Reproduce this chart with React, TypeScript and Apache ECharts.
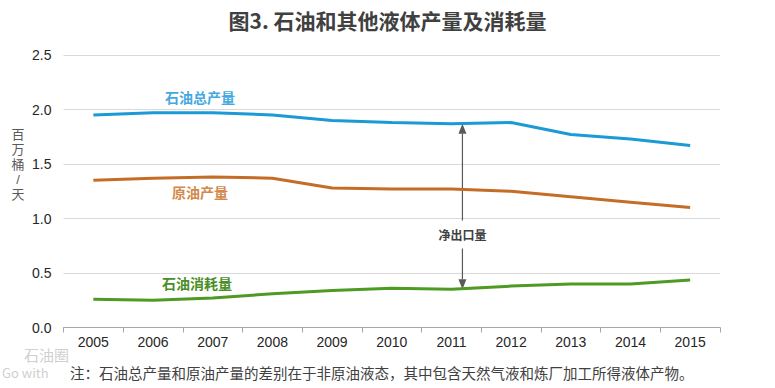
import React, { useEffect, useRef } from "react";
import * as echarts from "echarts";

const years = ["2005", "2006", "2007", "2008", "2009", "2010", "2011", "2012", "2013", "2014", "2015"];
const totalProduction = [1.95, 1.97, 1.97, 1.95, 1.9, 1.88, 1.87, 1.88, 1.77, 1.73, 1.67];
const crudeProduction = [1.35, 1.37, 1.38, 1.37, 1.28, 1.27, 1.27, 1.25, 1.2, 1.15, 1.1];
const consumption = [0.26, 0.25, 0.27, 0.31, 0.34, 0.36, 0.35, 0.38, 0.4, 0.4, 0.435];
const yMin = 0;
const yMax = 2.5;
const yStep = 0.5;
const yName = ["百", "万", "桶", "/", "天"];
const arrowYear = "2011";
const arrowTop = 1.87;
const arrowBottom = 0.35;

const FONT = "'Noto Sans CJK SC', 'Noto Sans', sans-serif";
const NUMFONT = "'Liberation Sans', Arial, sans-serif";

export default function App() {
  const ref = useRef<HTMLDivElement>(null);
  useEffect(() => {
    if (!ref.current) return;
    const chart = echarts.init(ref.current, null, { renderer: "svg" });
    const baseOption: any = {
      animation: false,
      backgroundColor: "#ffffff",
      grid: { left: 63.5, right: 55, top: 55, bottom: 60.5 },
      xAxis: {
        type: "category",
        data: years,
        boundaryGap: true,
        axisLine: { lineStyle: { color: "#a6a6a6", width: 1 } },
        axisTick: { show: true, length: 5, lineStyle: { color: "#a6a6a6" } },
        axisLabel: { color: "#262626", fontSize: 14, fontFamily: NUMFONT, margin: 7 },
        splitLine: { show: false },
      },
      yAxis: {
        type: "value",
        min: yMin,
        max: yMax,
        interval: yStep,
        axisLine: { show: false },
        axisTick: { show: false },
        axisLabel: {
          color: "#262626",
          fontSize: 14,
          fontFamily: NUMFONT,
          margin: 12,
          formatter: (v: number) => v.toFixed(1),
        },
        splitLine: { lineStyle: { color: "#d9d9d9", width: 1 } },
      },
      series: [
        {
          type: "line",
          data: totalProduction,
          symbol: "none",
          lineStyle: { color: "#1b9ad6", width: 3 },
        },
        {
          type: "line",
          data: crudeProduction,
          symbol: "none",
          lineStyle: { color: "#c46d27", width: 3 },
        },
        {
          type: "line",
          data: consumption,
          symbol: "none",
          lineStyle: { color: "#4e9a23", width: 3 },
        },
      ],
    };
    chart.setOption(baseOption);

    const ax = (chart.convertToPixel({ xAxisIndex: 0 }, arrowYear) as number) + 11;
    const yTop = chart.convertToPixel({ yAxisIndex: 0 }, arrowTop) as number;
    const yBot = chart.convertToPixel({ yAxisIndex: 0 }, arrowBottom) as number;
    const yText = (yTop + yBot) / 2 + 28;
    const ah = 10;
    const aw = 4;
    const arrowColor = "#595959";

    const nameTexts = yName.map((ch, i) => ({
      type: "text",
      x: 18,
      y: 134 + i * 15,
      style: {
        text: ch,
        font: `13px 'Liberation Sans', 'Noto Sans CJK SC', sans-serif`,
        fill: "#595959",
        align: "center",
        verticalAlign: "middle",
      },
    }));

    chart.setOption({
      graphic: [
        {
          type: "text",
          left: "center",
          top: 9,
          style: {
            text: "图3. 石油和其他液体产量及消耗量",
            font: `bold 21px ${FONT}`,
            fill: "#404040",
          },
          x: -16,
        },
        ...nameTexts,
        {
          type: "text",
          x: 200,
          y: 97,
          style: { text: "石油总产量", font: `bold 14px ${FONT}`, fill: "#45a9df", align: "center", verticalAlign: "middle" },
        },
        {
          type: "text",
          x: 200,
          y: 192,
          style: { text: "原油产量", font: `bold 14px ${FONT}`, fill: "#d4894c", align: "center", verticalAlign: "middle" },
        },
        {
          type: "text",
          x: 197,
          y: 283,
          style: { text: "石油消耗量", font: `bold 14px ${FONT}`, fill: "#4b8e27", align: "center", verticalAlign: "middle" },
        },
        {
          type: "line",
          shape: { x1: ax, y1: yTop + ah, x2: ax, y2: yText - 14 },
          style: { stroke: arrowColor, lineWidth: 1.2 },
        },
        {
          type: "polygon",
          shape: { points: [[ax, yTop], [ax - aw, yTop + ah], [ax + aw, yTop + ah]] },
          style: { fill: arrowColor },
        },
        {
          type: "line",
          shape: { x1: ax, y1: yText + 14, x2: ax, y2: yBot - ah },
          style: { stroke: arrowColor, lineWidth: 1.2 },
        },
        {
          type: "polygon",
          shape: { points: [[ax, yBot], [ax - aw, yBot - ah], [ax + aw, yBot - ah]] },
          style: { fill: arrowColor },
        },
        {
          type: "text",
          x: ax,
          y: yText,
          style: { text: "净出口量", font: `bold 12px ${FONT}`, fill: "#404040", align: "center", verticalAlign: "middle" },
        },
        {
          type: "text",
          x: 24,
          y: 354,
          style: { text: "石油圈", font: `15px ${FONT}`, fill: "#d0d0d0", align: "left", verticalAlign: "middle" },
        },
        {
          type: "text",
          x: 2,
          y: 372,
          style: { text: "Go with", font: `13px ${FONT}`, fill: "#d0d0d0", align: "left", verticalAlign: "middle" },
        },
        {
          type: "text",
          x: 70,
          y: 372,
          style: {
            text: "注：石油总产量和原油产量的差别在于非原油液态，其中包含天然气液和炼厂加工所得液体产物。",
            font: `14.5px ${FONT}`,
            fill: "#404040",
            align: "left",
            verticalAlign: "middle",
          },
        },
      ],
    });

    return () => chart.dispose();
  }, []);
  return <div ref={ref} style={{ width: 775, height: 388, position: "absolute", left: 0, top: 0 }} />;
}
